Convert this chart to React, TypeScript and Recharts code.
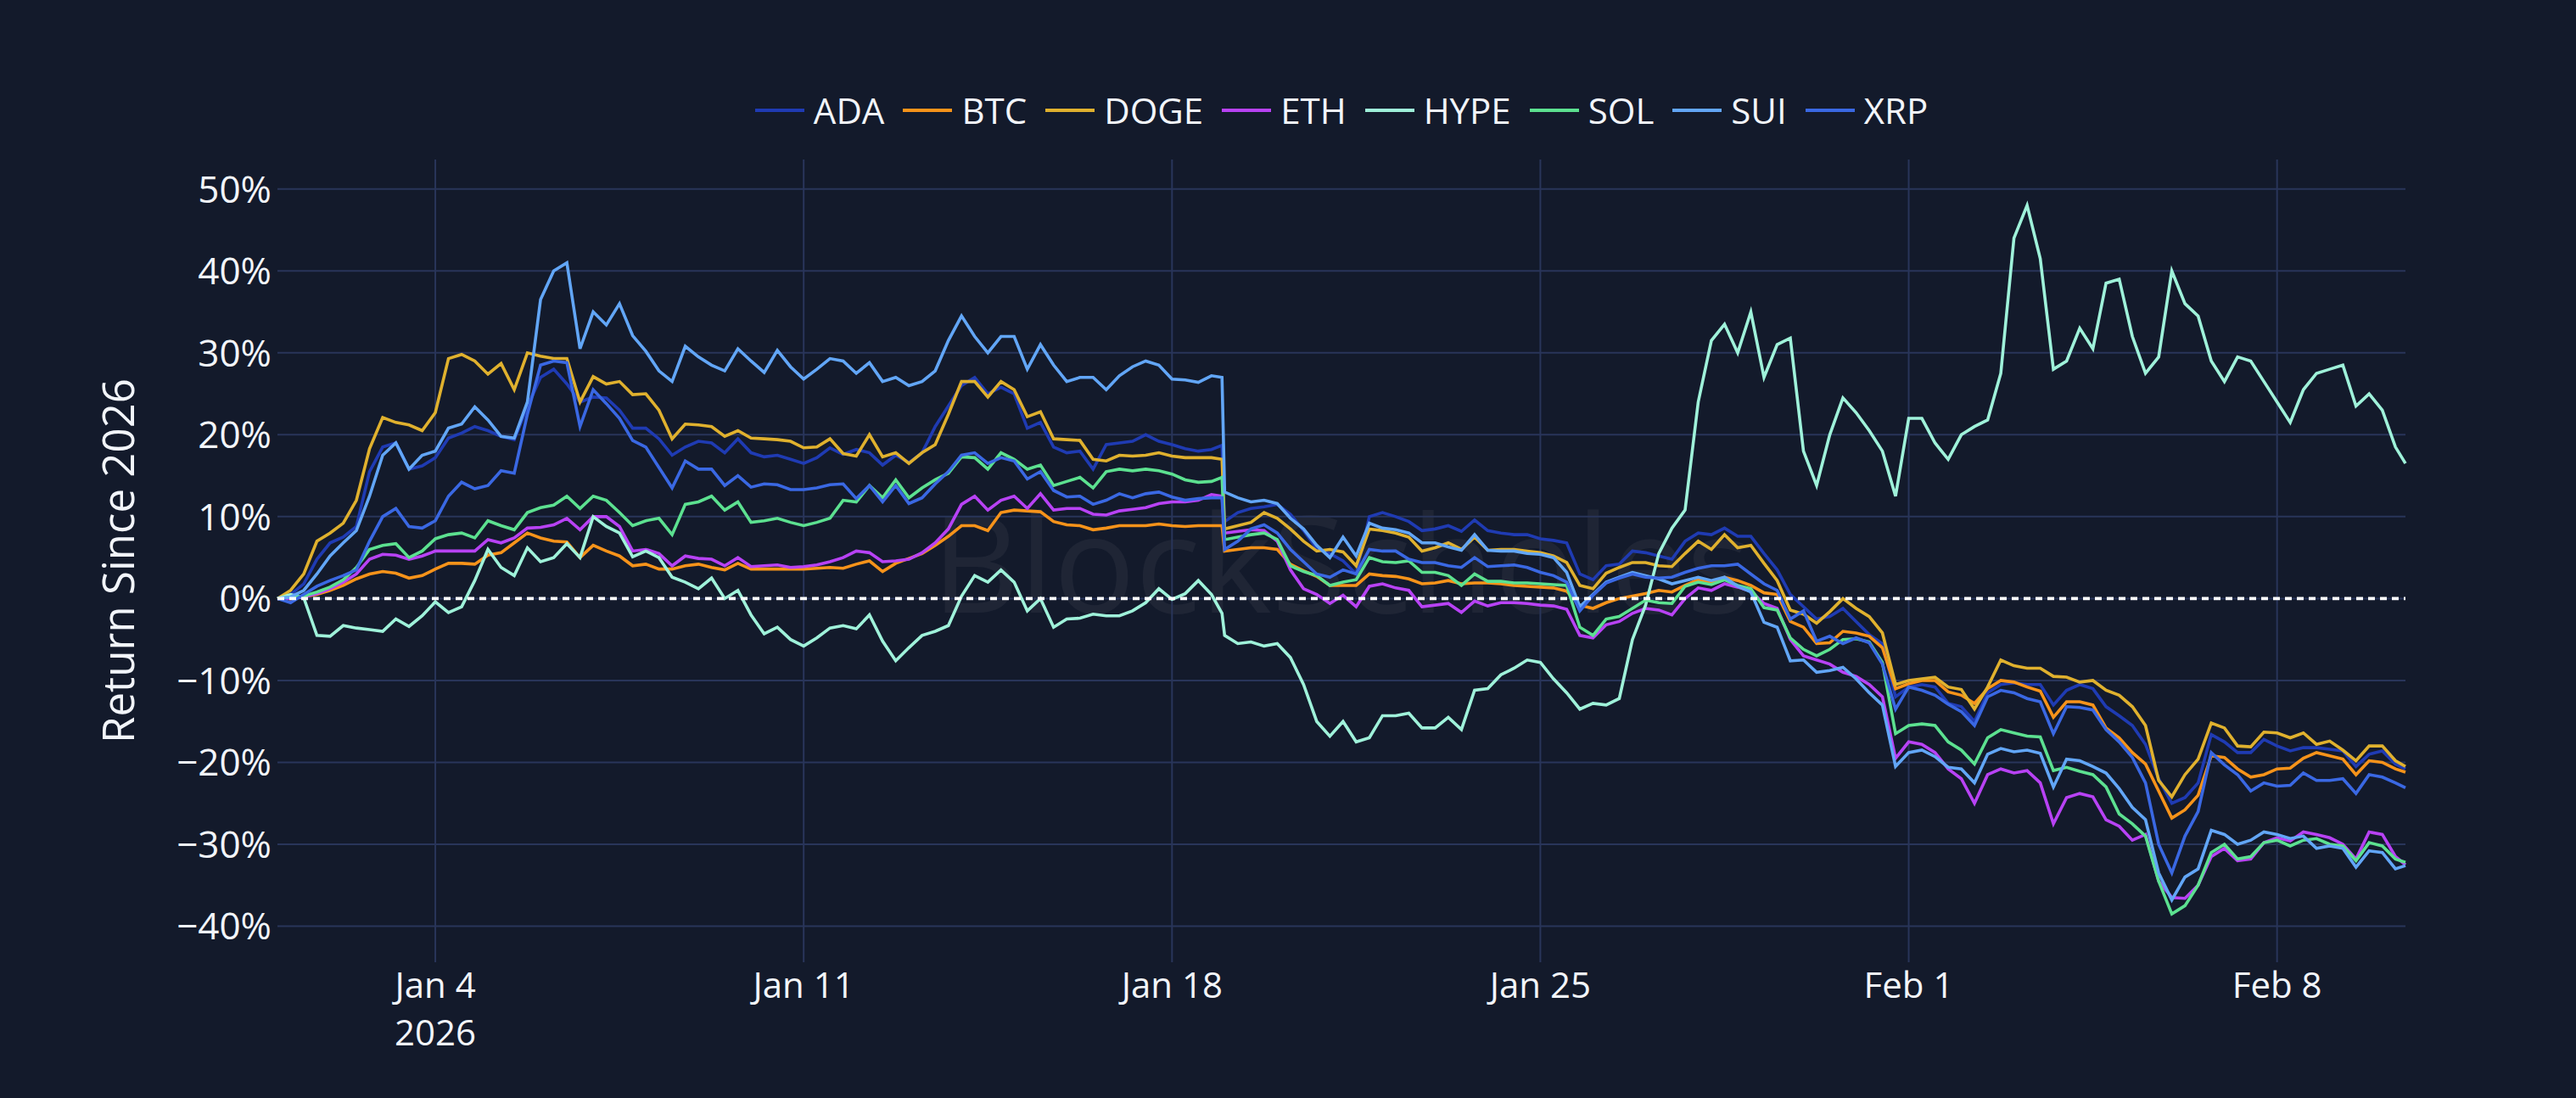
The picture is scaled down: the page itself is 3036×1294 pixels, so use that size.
import {
  CartesianGrid,
  Legend,
  Line,
  LineChart,
  ReferenceLine,
  XAxis,
  YAxis,
} from "recharts";

// time axis: days since 2026-01-01 00:00, one sample every 6 hours
const TIMES = [
  0, 0.25, 0.5, 0.75, 1, 1.25, 1.5, 1.75, 2, 2.25, 2.5, 2.75,
  3, 3.25, 3.5, 3.75, 4, 4.25, 4.5, 4.75, 5, 5.25, 5.5, 5.75,
  6, 6.25, 6.5, 6.75, 7, 7.25, 7.5, 7.75, 8, 8.25, 8.5, 8.75,
  9, 9.25, 9.5, 9.75, 10, 10.25, 10.5, 10.75, 11, 11.25, 11.5, 11.75,
  12, 12.25, 12.5, 12.75, 13, 13.25, 13.5, 13.75, 14, 14.25, 14.5, 14.75,
  15, 15.25, 15.5, 15.75, 16, 16.25, 16.5, 16.75, 17, 17.25, 17.5, 17.75, 17.95,
  18, 18.25, 18.5, 18.75, 19, 19.25, 19.5, 19.75, 20, 20.25, 20.5, 20.75,
  21, 21.25, 21.5, 21.75, 22, 22.25, 22.5, 22.75, 23, 23.25, 23.5, 23.75,
  24, 24.25, 24.5, 24.75, 25, 25.25, 25.5, 25.75, 26, 26.25, 26.5, 26.75,
  27, 27.25, 27.5, 27.75, 28, 28.25, 28.5, 28.75, 29, 29.25, 29.5, 29.75,
  30, 30.25, 30.5, 30.75, 31, 31.25, 31.5, 31.75, 32, 32.25, 32.5, 32.75,
  33, 33.25, 33.5, 33.75, 34, 34.25, 34.5, 34.75, 35, 35.25, 35.5, 35.75,
  36, 36.25, 36.5, 36.75, 37, 37.25, 37.5, 37.75, 38, 38.25, 38.5, 38.75,
  39, 39.25, 39.5, 39.75, 40, 40.25, 40.44,
];

// return since 2026, in %
const ADA = [
  0, 0.5, 1.8, 4.8, 6.8, 7.5, 8.8, 15.5, 18.5, 19.0, 15.8, 16.2,
  17.2, 19.6, 20.2, 21.0, 20.5, 19.8, 19.4, 23.4, 27.0, 28.0, 26.2, 24.0,
  24.6, 24.5, 23.0, 20.8, 20.8, 19.5, 17.5, 18.5, 19.2, 19.0, 17.8, 19.5,
  17.8, 17.3, 17.5, 17.0, 16.5, 17.2, 18.4, 17.6, 18.2, 17.8, 16.3, 17.5,
  16.6, 17.8, 21.0, 23.5, 26.0, 27.0, 25.0, 25.8, 25.0, 20.8, 21.5, 18.5,
  17.8, 18.0, 15.8, 18.8, 19.0, 19.2, 20.0, 19.2, 18.8, 18.3, 18.0, 18.2, 18.7,
  9.4, 10.5, 11.0, 11.2, 11.5, 10.3, 8.3, 6.1, 5.5, 4.6, 3.0, 10.0,
  10.5, 10.0, 9.4, 8.3, 8.5, 8.9, 8.2, 9.6, 8.3, 8.0, 7.8, 7.8,
  7.3, 7.1, 6.8, 3.0, 2.3, 4.0, 4.2, 5.8, 5.6, 5.2, 4.8, 7.0,
  8.0, 7.8, 8.6, 7.6, 7.6, 5.5, 3.5, 0.5, -1.0, -2.5, -2.2, -1.2,
  -2.8, -4.4, -5.5, -12.0, -10.8, -10.5, -10.8, -12.8, -13.2, -15.0, -11.5, -10.5,
  -10.3, -10.5, -10.5, -13.0, -11.2, -10.5, -11.0, -13.2, -14.3, -15.5, -17.8, -22.0,
  -25.0, -24.3, -22.5, -16.6, -17.5, -18.8, -18.8, -17.2, -18.0, -18.6, -18.2, -18.2,
  -18.4, -18.6, -20.5, -19.0, -18.6, -20.2, -20.8,
];

const BTC = [
  0, 0, 0.2, 0.5, 1.0, 1.6, 2.4, 3.0, 3.3, 3.1, 2.5, 2.8,
  3.6, 4.3, 4.3, 4.2, 5.3, 5.6, 6.8, 8.0, 7.4, 7.0, 6.9, 5.0,
  6.5, 5.8, 5.2, 4.0, 4.2, 3.6, 3.6, 4.0, 4.2, 3.8, 3.5, 4.3,
  3.6, 3.6, 3.6, 3.6, 3.6, 3.7, 3.8, 3.7, 4.2, 4.6, 3.3, 4.3,
  4.9, 5.5, 6.5, 7.6, 8.9, 8.9, 8.3, 10.5, 10.8, 10.7, 10.6, 9.4,
  9.0, 8.9, 8.4, 8.6, 8.9, 8.9, 8.9, 9.1, 8.9, 8.8, 8.9, 8.9, 8.9,
  5.8, 6.0, 6.2, 6.2, 6.0, 4.2, 3.4, 2.7, 1.6, 1.6, 1.6, 3.0,
  2.8, 2.7, 2.4, 1.8, 1.9, 2.2, 1.8, 1.9, 1.9, 1.8, 1.6, 1.5,
  1.4, 1.3, 0.9, -0.8, -1.2, -0.5, 0.0, 0.3, 0.6, 1.0, 0.8, 1.6,
  2.3, 2.0, 2.6, 2.2, 1.6, 0.7, 0.5, -2.8, -3.5, -5.5, -5.4, -4.0,
  -4.2, -4.6, -6.0, -11.0, -10.4, -10.0, -10.0, -11.4, -11.8, -12.8, -11.0, -10.0,
  -10.2, -10.8, -11.3, -14.5, -12.6, -12.6, -13.0, -15.8, -17.0, -18.8, -20.2, -23.5,
  -26.8, -25.8, -24.0, -19.2, -19.4, -20.8, -21.8, -21.5, -20.8, -20.7, -19.5, -18.8,
  -19.2, -19.6, -21.5, -19.8, -20.0, -20.8, -21.2,
];

const DOGE = [
  0, 1.0, 3.0, 7.0, 8.0, 9.2, 12.0, 18.3, 22.1, 21.5, 21.2, 20.5,
  22.7, 29.3, 29.8, 29.0, 27.4, 28.7, 25.5, 30.0, 29.6, 29.3, 29.3, 24.0,
  27.1, 26.2, 26.5, 24.9, 25.0, 23.0, 19.5, 21.3, 21.2, 21.0, 19.8, 20.5,
  19.6, 19.5, 19.4, 19.2, 18.4, 18.5, 19.5, 17.7, 17.4, 20.0, 17.3, 17.8,
  16.5, 17.8, 18.8, 22.5, 26.5, 26.5, 24.6, 26.5, 25.5, 22.2, 22.8, 19.5,
  19.4, 19.3, 17.0, 16.8, 17.5, 17.4, 17.5, 17.8, 17.4, 17.2, 17.2, 17.2, 17.0,
  8.5, 8.9, 9.3, 10.5, 9.8, 8.5, 7.0, 5.8, 6.0, 5.7, 4.0, 8.5,
  8.3, 8.0, 7.5, 5.8, 6.2, 6.8, 6.0, 7.5, 5.9, 6.0, 6.0, 5.8,
  5.6, 5.2, 4.4, 1.6, 1.2, 3.1, 3.8, 4.4, 4.4, 4.0, 3.9, 5.5,
  7.0, 6.0, 7.8, 6.2, 6.5, 4.3, 2.2, -1.4, -1.9, -3.0, -1.6, 0.0,
  -1.2, -2.2, -4.2, -10.5, -10.0, -9.8, -9.6, -10.8, -11.1, -13.5, -10.8, -7.5,
  -8.2, -8.5, -8.5, -9.5, -9.6, -10.2, -10.0, -11.2, -11.8, -13.2, -15.5, -22.2,
  -24.2, -21.5, -19.6, -15.2, -15.8, -18.0, -18.1, -16.3, -16.4, -17.0, -16.4, -17.8,
  -17.4, -18.5, -19.8, -18.0, -18.0, -19.8, -20.5,
];

const ETH = [
  0, 0, 0.2, 0.6, 1.2, 2.0, 3.0, 4.8, 5.4, 5.3, 4.8, 5.2,
  5.8, 5.8, 5.8, 5.8, 7.2, 6.8, 7.4, 8.6, 8.7, 9.0, 9.8, 8.4,
  10.0, 10.0, 8.8, 5.8, 6.0, 5.5, 4.0, 5.2, 4.9, 4.8, 4.0, 5.0,
  3.9, 4.0, 4.1, 3.8, 3.9, 4.1, 4.5, 5.0, 5.8, 5.6, 4.5, 4.6,
  4.8, 5.6, 6.8, 8.5, 11.5, 12.5, 10.8, 12.0, 12.5, 11.0, 12.8, 10.8,
  11.0, 11.0, 10.3, 10.2, 10.7, 10.9, 11.1, 11.6, 11.8, 11.8, 12.0, 12.7, 12.5,
  8.0, 8.2, 8.4, 8.3, 7.0, 3.5, 1.2, 0.5, -0.6, 0.4, -1.0, 1.5,
  1.8, 1.3, 1.0, -1.0, -0.8, -0.6, -1.7, -0.3, -0.9, -0.5, -0.5, -0.6,
  -0.8, -0.9, -1.3, -4.5, -4.8, -3.2, -2.8, -1.8, -1.2, -1.4, -2.0, 0.0,
  1.3, 1.0, 1.8, 1.4, 0.9, -0.6, -1.2, -5.0, -7.0, -7.5, -8.0, -9.0,
  -9.5, -10.5, -12.0, -19.5, -17.5, -17.8, -18.8, -20.8, -22.0, -25.0, -21.5, -20.8,
  -21.3, -21.0, -22.5, -27.5, -24.3, -23.8, -24.2, -27.0, -27.8, -29.5, -28.8, -34.5,
  -36.5, -36.6, -35.0, -31.5, -30.5, -32.0, -31.8, -29.8, -29.2, -29.6, -28.5, -28.8,
  -29.2, -30.0, -31.8, -28.5, -28.8, -31.5, -32.5,
];

const HYPE = [
  0, 0.5, 0.1, -4.5, -4.6, -3.3, -3.6, -3.8, -4.0, -2.5, -3.4, -2.1,
  -0.4, -1.7, -1.0, 2.2, 6.0, 3.8, 2.8, 6.2, 4.5, 5.0, 6.7, 5.0,
  10.0, 8.8, 8.0, 5.1, 5.8, 5.0, 2.6, 2.0, 1.2, 2.5, 0.0, 1.0,
  -2.0, -4.3, -3.5, -5.0, -5.8, -4.8, -3.6, -3.3, -3.7, -2.0, -5.2, -7.6,
  -6.0, -4.5, -4.0, -3.3, 0.3, 2.8, 2.0, 3.5, 2.0, -1.5, 0.0, -3.5,
  -2.5, -2.4, -1.9, -2.1, -2.1, -1.5, -0.5, 1.2, -0.1, 0.6, 2.2, 0.5, -1.8,
  -4.5, -5.5, -5.3, -5.8, -5.5, -7.2, -10.5, -15.0, -16.8, -15.0, -17.5, -17.0,
  -14.3, -14.3, -14.0, -15.8, -15.8, -14.5, -16.0, -11.2, -11.0, -9.3, -8.5, -7.5,
  -7.8, -9.8, -11.5, -13.5, -12.8, -13.0, -12.2, -5.0, -0.8, 5.5, 8.6, 10.8,
  24.0, 31.5, 33.5, 30.0, 35.0, 27.0, 31.0, 31.8, 18.0, 13.8, 20.0, 24.5,
  22.7, 20.5, 18.0, 12.5, 22.0, 22.0, 19.0, 17.0, 20.0, 21.0, 21.8, 27.5,
  44.0, 48.0, 41.5, 28.0, 29.0, 33.0, 30.5, 38.5, 39.0, 32.0, 27.5, 29.5,
  40.0, 36.0, 34.5, 29.0, 26.5, 29.5, 29.0, 26.5, 24.0, 21.5, 25.5, 27.5,
  28.0, 28.5, 23.5, 25.0, 23.0, 18.5, 16.5,
];

const SOL = [
  0, 0.2, 0.3, 0.8, 1.4, 2.3, 3.8, 6.0, 6.5, 6.7, 5.0, 5.8,
  7.3, 7.8, 8.0, 7.4, 9.5, 8.9, 8.4, 10.5, 11.1, 11.4, 12.5, 11.0,
  12.5, 12.0, 10.5, 8.9, 9.5, 9.8, 7.8, 11.5, 11.8, 12.5, 10.8, 11.8,
  9.3, 9.5, 9.8, 9.3, 8.9, 9.3, 9.8, 12.0, 11.8, 13.8, 12.3, 14.5,
  12.3, 13.5, 14.5, 15.3, 17.3, 17.2, 15.8, 17.8, 17.0, 15.8, 16.3, 13.8,
  14.3, 14.8, 13.5, 15.5, 15.8, 15.6, 15.8, 15.6, 15.2, 14.5, 14.2, 14.3, 14.8,
  7.2, 7.5, 7.8, 8.0, 7.2, 4.0, 3.3, 2.8, 1.6, 2.0, 2.3, 5.0,
  4.5, 4.4, 4.6, 3.2, 3.2, 2.8, 1.6, 3.0, 2.1, 2.1, 1.9, 1.9,
  1.8, 1.7, 1.6, -3.5, -4.5, -2.5, -2.2, -1.2, -0.2, -0.5, -0.6, 1.5,
  2.0, 1.7, 2.3, 1.6, 1.2, -1.1, -1.4, -4.8, -6.2, -7.0, -6.2, -5.0,
  -4.9, -5.3, -7.8, -16.5, -15.5, -15.3, -15.5, -17.5, -18.5, -20.2, -17.0, -16.0,
  -16.4, -16.8, -16.9, -21.0, -20.6, -21.1, -21.5, -23.0, -26.3, -27.5, -29.0, -34.5,
  -38.5, -37.5, -35.0, -31.0, -30.0, -31.8, -31.5, -29.8, -29.5, -30.2, -29.5, -29.3,
  -30.0, -30.2, -32.0, -29.8, -30.2, -31.8, -32.2,
];

const SUI = [
  0, 0.2, 1.0, 3.0, 5.2, 6.8, 8.3, 12.5, 17.5, 19.0, 15.8, 17.5,
  18.0, 20.8, 21.3, 23.4, 21.8, 19.8, 19.6, 24.0, 36.5, 40.0, 41.0, 30.5,
  35.0, 33.4, 36.0, 32.1, 30.2, 27.8, 26.5, 30.8, 29.5, 28.5, 27.8, 30.5,
  29.0, 27.6, 30.3, 28.3, 26.8, 28.0, 29.3, 29.0, 27.5, 28.8, 26.5, 27.0,
  26.0, 26.5, 27.8, 31.5, 34.5, 32.0, 30.0, 32.0, 32.0, 28.0, 31.0, 28.5,
  26.5, 27.0, 27.0, 25.5, 27.2, 28.3, 29.0, 28.5, 26.8, 26.7, 26.4, 27.2, 27.0,
  13.0, 12.3, 11.8, 12.0, 11.6, 9.8, 8.5, 6.5, 5.0, 7.5, 5.2, 9.2,
  8.6, 8.4, 8.0, 6.8, 6.8, 6.3, 5.9, 7.8, 5.9, 5.8, 5.8, 5.5,
  5.4, 5.0, 3.2, -1.0, 0.5, 2.0, 2.6, 3.2, 2.8, 2.4, 1.8, 2.2,
  2.6, 2.2, 2.6, 1.5, 0.8, -2.9, -3.5, -7.6, -7.5, -9.0, -8.8, -8.4,
  -9.8, -11.5, -13.0, -20.5, -18.8, -18.5, -19.3, -20.6, -20.8, -22.5, -19.0, -18.3,
  -18.7, -18.5, -18.9, -23.0, -19.6, -19.8, -20.5, -21.3, -23.2, -25.5, -27.0, -33.5,
  -36.8, -34.0, -33.0, -28.3, -28.8, -30.0, -29.5, -28.5, -28.8, -29.3, -29.0, -30.5,
  -30.2, -30.5, -32.8, -30.8, -31.0, -33.0, -32.6,
];

const XRP = [
  0, -0.5, 0.5, 1.5, 2.2, 2.8, 3.5, 7.0, 10.0, 11.0, 8.8, 8.6,
  9.5, 12.5, 14.2, 13.4, 13.8, 15.6, 15.3, 22.5, 28.5, 29.0, 28.8, 21.0,
  25.5, 23.8, 22.0, 19.3, 18.5, 16.0, 13.5, 16.8, 15.8, 15.8, 13.8, 15.0,
  13.6, 14.0, 13.9, 13.3, 13.3, 13.5, 13.9, 14.0, 12.2, 13.8, 11.8, 13.8,
  11.6, 12.3, 14.0, 15.5, 17.5, 17.8, 16.5, 17.2, 16.8, 14.6, 15.5, 13.2,
  12.4, 12.5, 11.5, 12.0, 12.8, 12.3, 12.8, 13.0, 12.4, 12.0, 12.2, 12.3, 12.3,
  6.0, 7.0, 8.5, 9.0, 8.0, 6.0, 4.5, 3.0, 2.6, 3.5, 3.0, 6.0,
  5.8, 5.8, 4.8, 4.4, 4.4, 4.0, 3.8, 5.0, 3.9, 4.0, 4.1, 3.8,
  3.2, 2.8, 2.0, -1.5, 0.4, 1.9, 2.5, 3.0, 2.6, 2.5, 2.6, 3.2,
  3.7, 4.0, 4.0, 4.2, 3.0, 1.8, 1.0, -2.5, -1.5, -5.2, -4.6, -5.5,
  -4.8, -5.4, -8.0, -13.5, -10.8, -11.2, -11.8, -12.9, -13.8, -15.5, -12.0, -11.2,
  -11.5, -12.2, -12.6, -16.5, -13.2, -13.3, -13.6, -16.0, -17.5, -19.4, -22.5, -30.0,
  -33.5, -29.0, -26.0, -18.8, -20.3, -21.5, -23.5, -22.5, -22.9, -22.8, -21.3, -22.2,
  -22.2, -22.0, -23.8, -21.5, -21.8, -22.5, -23.1,
];

const SERIES = [
  { name: "ADA", values: ADA, color: "#1f3bb3" },
  { name: "BTC", values: BTC, color: "#f7931a" },
  { name: "DOGE", values: DOGE, color: "#e0b12e" },
  { name: "ETH", values: ETH, color: "#b842f5" },
  { name: "HYPE", values: HYPE, color: "#9ff2da" },
  { name: "SOL", values: SOL, color: "#5ce190" },
  { name: "SUI", values: SUI, color: "#62a6f7" },
  { name: "XRP", values: XRP, color: "#3a68e3" },
];

const X_TICKS = [3, 10, 17, 24, 31, 38];
const X_TICK_LABELS = ["Jan 4", "Jan 11", "Jan 18", "Jan 25", "Feb 1", "Feb 8"];
const X_YEAR_LABEL = "2026";
const Y_TICKS = [-40, -30, -20, -10, 0, 10, 20, 30, 40, 50];
const Y_TITLE = "Return Since 2026";
const WATERMARK = "BlockScholes";

const W = 3036;
const H = 1294;
const PLOT_LEFT = 327;
const PLOT_RIGHT = 2835;
const PLOT_TOP = 188;
const PLOT_BOTTOM = 1134;
const LEGEND_H = 80;
const Y_AXIS_W = 100;
const X_AXIS_H = 60;

const BG = "#131a2b";
const GRID = "#29355a";
const TEXT = "#f2f5fa";
const FONT = "'Open Sans', sans-serif";

const data = TIMES.map((t, i) => {
  const row: Record<string, number> = { t };
  SERIES.forEach((s) => {
    row[s.name] = s.values[i];
  });
  return row;
});

function formatPct(v: number) {
  return v < 0 ? `\u2212${Math.abs(v)}%` : `${v}%`;
}

function YTick({ x, y, payload }: any) {
  return (
    <text
      x={x}
      y={y}
      dy="0.36em"
      textAnchor="end"
      fill={TEXT}
      fontFamily={FONT}
      fontSize={44}
    >
      {formatPct(payload.value)}
    </text>
  );
}

function XTick({ x, y, index }: any) {
  return (
    <g>
      <text x={x} y={y + 42} textAnchor="middle" fill={TEXT} fontFamily={FONT} fontSize={42}>
        {X_TICK_LABELS[index]}
      </text>
      {index === 0 ? (
        <text x={x} y={y + 98} textAnchor="middle" fill={TEXT} fontFamily={FONT} fontSize={42}>
          {X_YEAR_LABEL}
        </text>
      ) : null}
    </g>
  );
}

function YTitle() {
  const cx = 140;
  const cy = (PLOT_TOP + PLOT_BOTTOM) / 2;
  return (
    <text
      x={cx}
      y={cy}
      dy="0.36em"
      textAnchor="middle"
      transform={`rotate(-90 ${cx} ${cy})`}
      fill={TEXT}
      fontFamily={FONT}
      fontSize={51}
    >
      {Y_TITLE}
    </text>
  );
}

function LegendRow({ payload }: any) {
  return (
    <div
      style={{
        display: "flex",
        justifyContent: "center",
        alignItems: "center",
        gap: 22,
        height: LEGEND_H,
      }}
    >
      {(payload ?? []).map((entry: any) => (
        <div key={entry.value} style={{ display: "flex", alignItems: "center" }}>
          <span
            style={{
              width: 58,
              height: 4,
              background: entry.color,
              marginRight: 11,
            }}
          />
          <span
            style={{
              fontSize: 42,
              lineHeight: 1,
              color: TEXT,
              fontFamily: FONT,
            }}
          >
            {entry.value}
          </span>
        </div>
      ))}
    </div>
  );
}

export default function App() {
  return (
    <div
      style={{
        position: "absolute",
        left: 0,
        top: 0,
        width: W,
        height: H,
        background: BG,
        overflow: "hidden",
      }}
    >
      <div
        style={{
          position: "absolute",
          left: PLOT_LEFT,
          width: PLOT_RIGHT - PLOT_LEFT,
          top: 580,
          textAlign: "center",
          fontFamily: FONT,
          fontSize: 160,
          lineHeight: 1,
          color: "rgba(255, 255, 255, 0.05)",
          whiteSpace: "nowrap",
        }}
      >
        {WATERMARK}
      </div>
      <div style={{ position: "absolute", left: 0, top: 0 }}>
        <LineChart
          width={W}
          height={H}
          data={data}
          margin={{
            top: PLOT_TOP - LEGEND_H,
            right: W - PLOT_RIGHT,
            bottom: H - PLOT_BOTTOM - X_AXIS_H,
            left: PLOT_LEFT - Y_AXIS_W,
          }}
        >
          <CartesianGrid stroke={GRID} strokeWidth={2} syncWithTicks />
          <XAxis
            dataKey="t"
            type="number"
            domain={[0, 40.44]}
            ticks={X_TICKS}
            tick={<XTick />}
            axisLine={false}
            tickLine={false}
            tickSize={0}
            tickMargin={0}
            height={X_AXIS_H}
            interval={0}
          />
          <YAxis
            type="number"
            domain={[-44.4, 53.6]}
            ticks={Y_TICKS}
            tick={<YTick />}
            axisLine={false}
            tickLine={false}
            tickSize={0}
            tickMargin={7}
            width={Y_AXIS_W}
            interval={0}
            label={<YTitle />}
          />
          <Legend
            verticalAlign="top"
            content={<LegendRow />}
            wrapperStyle={{
              top: PLOT_TOP - LEGEND_H - 18,
              left: PLOT_LEFT,
              width: PLOT_RIGHT - PLOT_LEFT,
            }}
          />
          {SERIES.map((s) => (
            <Line
              key={s.name}
              dataKey={s.name}
              name={s.name}
              stroke={s.color}
              strokeWidth={3.6}
              dot={false}
              activeDot={false}
              type="linear"
              isAnimationActive={false}
            />
          ))}
          <ReferenceLine y={0} stroke="#ffffff" strokeWidth={3.8} strokeDasharray="8 6" />
        </LineChart>
      </div>
    </div>
  );
}
